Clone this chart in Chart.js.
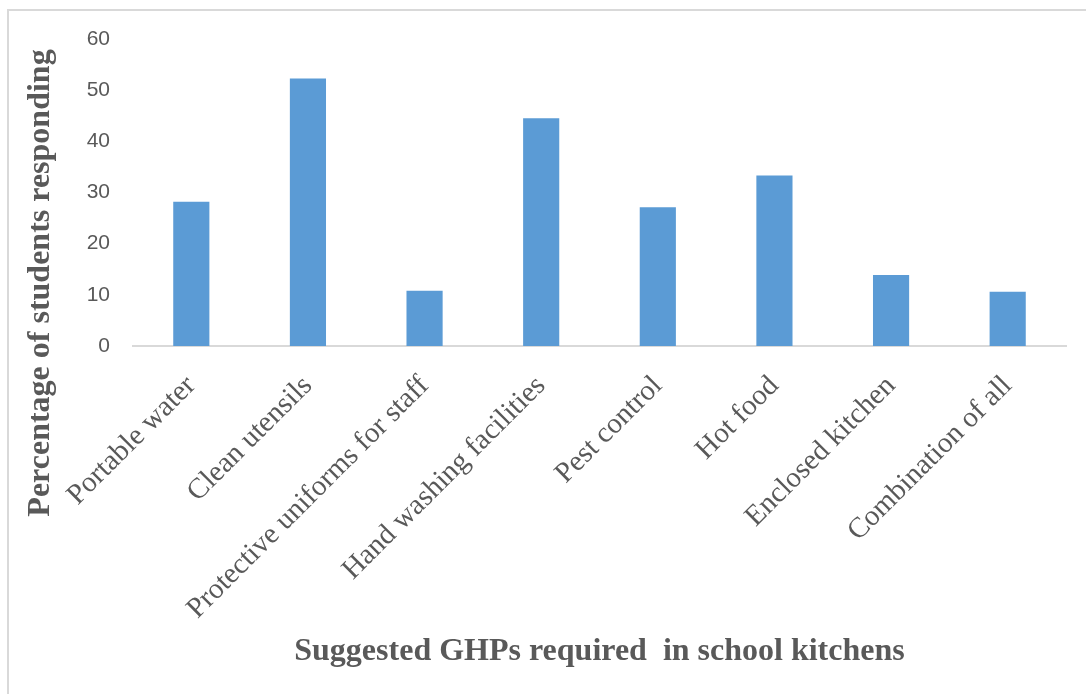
<!DOCTYPE html>
<html>
<head>
<meta charset="utf-8">
<script src="https://cdn.jsdelivr.net/npm/chart.js@4"></script>
<style>
  html, body { margin: 0; padding: 0; background: #fff; }
  #frame { position: absolute; left: 7px; top: 9px; width: 1200px; height: 800px;
           border-left: 2px solid #d9d9d9; border-top: 2px solid #d9d9d9; }
  #chart { position: absolute; left: 0; top: 0; }
</style>
</head>
<body>
<div id="frame"></div>
<canvas id="chart" width="1086" height="694"></canvas>
<script>
    "use strict";

    var categories = ['Portable water', 'Clean utensils', 'Protective uniforms for staff',
        'Hand washing facilities', 'Pest control', 'Hot food', 'Enclosed kitchen', 'Combination of all'];
    var percentages = [28.2, 52.3, 10.8, 44.5, 27.1, 33.3, 13.9, 10.6];
    var yTicks = [0, 10, 20, 30, 40, 50, 60];

    var xTitle = 'Suggested GHPs required  in school kitchens';
    var yTitle = 'Percentage of students responding';

    var textColor = '#595959';
    var serif = '"Liberation Serif", "Times New Roman", serif';

    // y axis title sits lower than the plot centre, so draw it ourselves
    var yTitlePlugin = {
        id: 'yTitle',
        afterDraw: function (chart) {
            var ctx = chart.ctx;
            ctx.save();
            ctx.translate(41, 283);
            ctx.rotate(-Math.PI / 2);
            ctx.font = 'bold 32px ' + serif;
            ctx.fillStyle = textColor;
            ctx.textAlign = 'center';
            ctx.textBaseline = 'middle';
            ctx.fillText(yTitle, 0, 0);
            ctx.restore();
        }
    };

    var ctx = document.getElementById('chart').getContext('2d');
    var barChart = new Chart(ctx, {
        type: 'bar',
        data: {
            labels: categories,
            datasets: [
                { label: 'Percentage', data: percentages, backgroundColor: '#5b9bd5',
                  categoryPercentage: 1, barPercentage: 0.31 }
            ]
        },
        options: {
            responsive: false,
            animation: false,
            layout: { padding: { top: 39, right: 20, bottom: 0, left: 0 } },
            plugins: { legend: { display: false }, tooltip: { enabled: false } },
            scales: {
                x: {
                    grid: { display: false, drawTicks: false },
                    border: { display: true, color: '#d9d9d9', width: 2 },
                    ticks: {
                        color: textColor, font: { family: serif, size: 29 },
                        minRotation: 45, maxRotation: 45, autoSkip: false,
                        padding: 23, labelOffset: 0
                    },
                    title: {
                        display: true, text: xTitle, color: textColor,
                        font: { family: serif, size: 32, weight: 'bold' },
                        padding: { top: 0, bottom: 23 }
                    },
                    afterFit: function (scale) { scale.height = 348; }
                },
                y: {
                    min: 0, max: 60,
                    afterBuildTicks: function (scale) {
                        scale.ticks = yTicks.map(function (v) { return { value: v }; });
                    },
                    grid: { display: false, drawTicks: false },
                    border: { display: false },
                    ticks: {
                        color: textColor, padding: 23,
                        font: { family: '"Liberation Sans", Arial, sans-serif', size: 21 }
                    },
                    afterFit: function (scale) { scale.width = 133; }
                }
            }
        },
        plugins: [yTitlePlugin]
    });
</script>
</body>
</html>
